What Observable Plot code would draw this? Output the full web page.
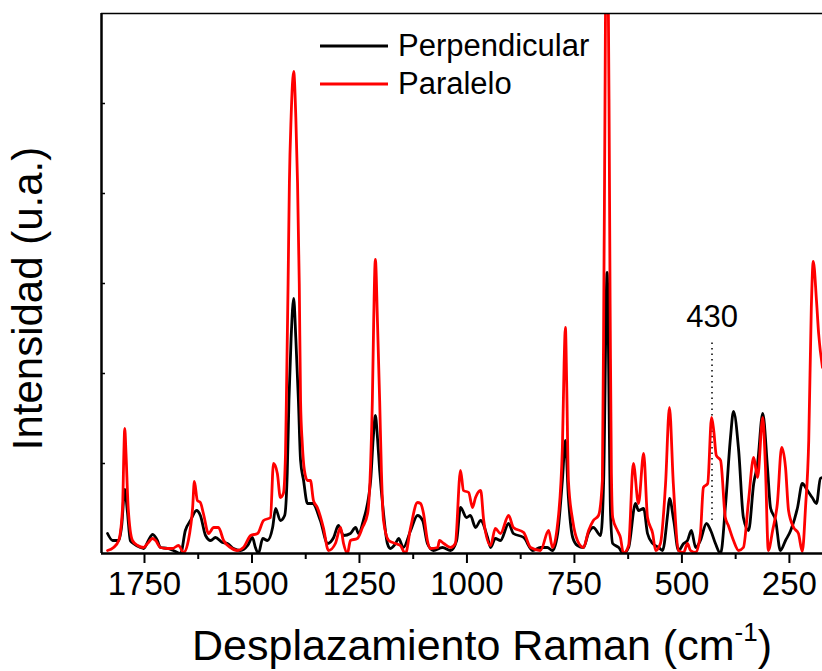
<!DOCTYPE html>
<html>
<head>
<meta charset="utf-8">
<script src="https://cdn.jsdelivr.net/npm/d3@7"></script>
<script src="https://cdn.jsdelivr.net/npm/@observablehq/plot@0.6"></script>
<style>
  body { margin: 0; background: #fff; }
  #chart { position: relative; width: 822px; height: 671px; font-family: "Liberation Sans", Arial, sans-serif; }
  .legend { position: absolute; left: 320px; top: 27px; }
  .legend .row { display: flex; align-items: center; height: 38px; }
  .legend .row span { font-size: 31px; color: #000; margin-left: 10px; line-height: 38px; }
  .legend svg { display: block; }
</style>
</head>
<body>
<div id="chart"></div>
<script>
// Raman spectra in two polarization geometries (intensity in arbitrary units)
const perpWavenumber = [1836,1824,1810,1803,1796,1790,1783,1776,1759,1752,1741,1731,1720,1713,1696,1683,1666,1655,1643,1629,1620,1608,1596,1585,1569,1557,1543,1527,1510,1499,1492,1485,1475,1464,1452,1445,1434,1424,1418,1414,1409,1403,1398,1392,1387,1380,1371,1359,1341,1324,1310,1299,1287,1271,1259,1252,1241,1224,1218,1213,1208,1203,1194,1185,1178,1166,1159,1148,1131,1115,1103,1092,1078,1057,1038,1024,1015,1001,992,980,968,952,945,934,922,903,892,868,847,829,813,801,789,778,771,764,754,743,729,717,706,689,682,674,666,661,647,636,624,608,601,589,580,568,554,545,533,529,519,508,496,487,478,468,457,443,433,422,410,399,387,380,368,357,345,333,324,312,301,294,282,271,259,247,231,220,208,197,187,178,173];
const perpIntensity = [20,13,13,28,64,43,13,10,6,5,13,19,13,6,5,3,0,23,33,43,38,18,13,16,11,10,5,3,8,16,6,0,15,13,26,45,33,38,80,153,215,255,215,153,93,73,50,50,33,10,16,28,18,20,26,20,33,73,115,138,115,83,40,10,5,10,15,6,23,38,33,10,3,6,3,13,46,36,38,26,33,16,6,15,13,30,20,16,3,6,6,3,20,73,113,56,16,8,6,21,26,18,73,281,40,10,6,0,6,50,43,45,20,10,6,3,40,55,33,3,10,13,23,6,13,30,23,10,0,46,116,142,103,36,23,70,90,140,86,46,33,3,13,23,46,70,63,56,50,75,76];

const paraWavenumber = [1836,1822,1810,1801,1798,1796,1793,1788,1778,1766,1752,1743,1731,1724,1713,1696,1685,1671,1659,1648,1638,1634,1627,1620,1613,1601,1589,1578,1566,1550,1534,1520,1503,1487,1473,1457,1450,1441,1434,1427,1422,1420,1416,1413,1409,1403,1398,1394,1390,1387,1383,1378,1371,1364,1357,1348,1334,1322,1306,1294,1287,1278,1271,1255,1243,1231,1224,1220,1217,1213,1208,1203,1199,1194,1182,1166,1155,1143,1131,1115,1108,1101,1092,1085,1068,1064,1054,1038,1027,1015,1008,996,987,980,968,961,945,934,922,903,892,868,852,829,810,801,789,778,774,771,768,764,754,743,729,717,706,694,685,681,674,667,664,661,650,643,636,624,613,601,589,580,568,561,550,538,529,520,508,496,487,480,468,457,450,440,431,426,420,410,399,392,380,368,357,345,333,324,312,306,299,289,278,268,259,252,240,229,220,212.5,205,199,194.5,187,182,173];
const paraIntensity = [3,6,13,46,100,125,100,46,13,8,6,10,15,13,6,5,5,8,1,13,46,72,53,51,40,20,26,26,13,6,3,6,18,20,33,36,90,80,56,60,100,153,270,370,436,482,436,370,270,153,110,83,73,73,53,46,26,3,10,26,10,0,13,15,26,40,90,153,230,294,230,153,83,33,13,10,8,0,26,51,50,40,13,5,6,13,10,6,10,83,63,61,46,56,63,33,8,25,20,38,26,21,6,3,23,6,30,106,190,226,170,73,33,13,6,23,33,38,73,300,720,250,80,36,23,16,0,8,90,50,100,36,20,3,10,70,146,70,3,1,10,3,1,20,66,70,136,123,98,93,36,28,13,3,6,53,96,76,136,90,3,23,50,106,86,43,26,20,2,46,113,246,292,253,220,186];

// Axis ticks (cm-1) and the marked band
const majorTicks = [1750, 1500, 1250, 1000, 750, 500, 250];
const minorTicks = [1625, 1375, 1125, 875, 625, 375];
const intensityTicks = [90, 180, 270, 360, 450];
const bands = [{wavenumber: 430, label: "430", from: 33, to: 211, labelAt: 236}];

const series = [
  {name: "Perpendicular", color: "#000000", x: perpWavenumber, y: perpIntensity},
  {name: "Paralelo", color: "#ff0000", x: paraWavenumber, y: paraIntensity}
];
const rows = series.flatMap(s => s.x.map((w, i) => ({serie: s.name, wavenumber: w, intensity: s.y[i]})));

const xTitle = "Desplazamiento Raman (cm-1)";
const yTitle = "Intensidad (u.a.)";

const plot = Plot.plot({
  width: 822,
  height: 671,
  marginLeft: 101,
  marginRight: 0,
  marginTop: 13,
  marginBottom: 118,
  style: {fontFamily: "'Liberation Sans', Arial, sans-serif", background: "white", color: "black", overflow: "visible"},
  x: {domain: [1850, 173]},
  y: {domain: [0, 540]},
  marks: [
    Plot.ruleX(bands, {x: "wavenumber", y1: "from", y2: "to", stroke: "black", strokeWidth: 1.5, strokeDasharray: "1.5,4"}),
    Plot.text(bands, {x: "wavenumber", y: "labelAt", text: "label", fontSize: 31, fill: "black"}),
    Plot.line(rows.filter(d => d.serie === "Perpendicular"), {x: "wavenumber", y: "intensity", stroke: "#000000", strokeWidth: 2.8, curve: "monotone-x", clip: true}),
    Plot.line(rows.filter(d => d.serie === "Paralelo"), {x: "wavenumber", y: "intensity", stroke: "#ff0000", strokeWidth: 2.8, curve: "monotone-x", clip: true}),
    Plot.axisX({ticks: majorTicks, tickSize: 10, tickPadding: 8, fontSize: 33, strokeWidth: 2, label: null, tickFormat: d => String(d)}),
    Plot.axisX({ticks: minorTicks, tickSize: 6, strokeWidth: 2, fill: "none", label: null}),
    Plot.axisY({ticks: intensityTicks, tickSize: -4, strokeWidth: 1.5, fill: "none", label: null}),
    Plot.ruleY([0], {strokeWidth: 2.5}),
    Plot.ruleY([540], {strokeWidth: 1.5}),
    Plot.ruleX([1850], {strokeWidth: 2.5}),
    Plot.text([xTitle], {frameAnchor: "bottom", textAnchor: "middle", lineAnchor: "middle", dx: 20, dy: 93, fontSize: 43, fill: "black"}),
    Plot.text([yTitle], {frameAnchor: "left", textAnchor: "middle", lineAnchor: "middle", rotate: -90, dx: -73, dy: 15, fontSize: 42, fill: "black"})
  ]
});

// Superscript for the unit of the x title
d3.select(plot).selectAll("text").filter(function() { return this.textContent === xTitle; }).each(function() {
  const t = d3.select(this);
  t.text(null);
  t.append("tspan").text("Desplazamiento Raman (cm");
  t.append("tspan").attr("font-size", 26).attr("dy", -19).text("-1");
  t.append("tspan").attr("dy", 19).text(")");
});

const chart = document.getElementById("chart");
chart.appendChild(plot);

// Legend
const legend = document.createElement("div");
legend.className = "legend";
for (const s of series) {
  const row = document.createElement("div");
  row.className = "row";
  row.innerHTML = `<svg width="68" height="6"><line x1="0" x2="68" y1="3" y2="3" stroke="${s.color}" stroke-width="2.8"/></svg><span>${s.name}</span>`;
  legend.appendChild(row);
}
chart.appendChild(legend);
</script>
</body>
</html>
